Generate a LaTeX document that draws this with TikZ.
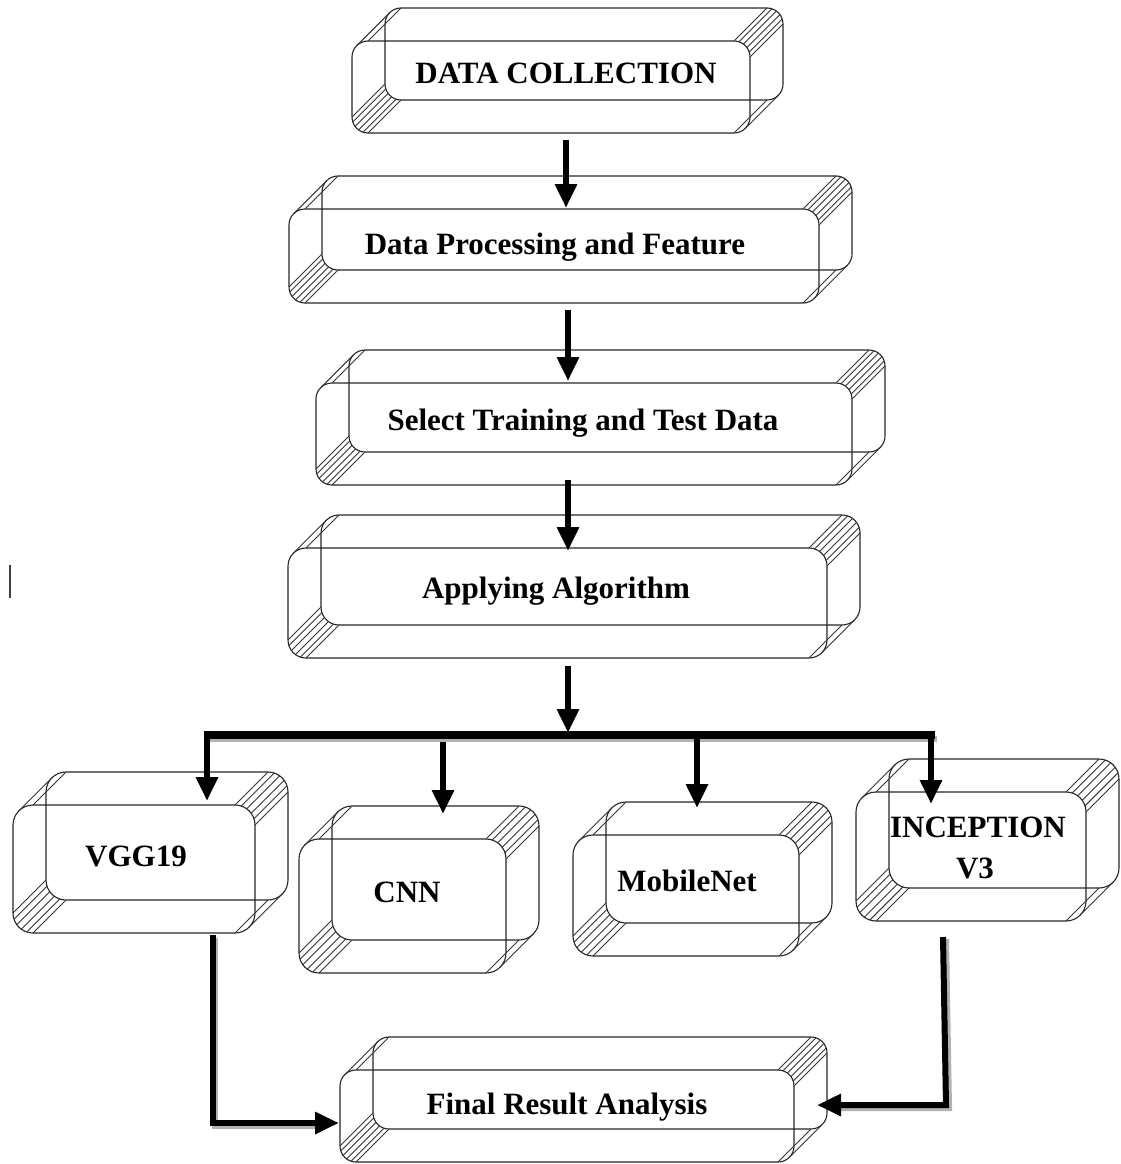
\documentclass[tikz,border=0pt]{standalone}
\usepackage{fontspec}
\setmainfont{Liberation Serif}
\usetikzlibrary{arrows.meta}
\tikzset{
 boxline/.style={draw=black!85, line width=1.1pt},
 hatchline/.style={draw=black!80, line width=0.9pt},
 lbl/.style={font=\fontsize{31}{38}\selectfont\bfseries, inner sep=0pt, anchor=base},
 arr/.style={line width=6pt, -{Triangle[length=24pt,width=21pt]}, draw=black},
 busline/.style={line width=8pt, draw=black},
 shade/.style={line width=6pt, draw=black!30},
}
\newcommand\bevline[4]{%
 \pgfmathsetmacro\px{#1+#3*cos(#4)}\pgfmathsetmacro\py{#2-#3*sin(#4)}%
 \draw[hatchline] (\px,\py) -- ++(33,-33);}
\newcommand\bevbox[6]{%
 \pgfmathsetmacro\fxb{#4-33}\pgfmathsetmacro\fya{#3+33}%
 \pgfmathsetmacro\kxa{#2+33}\pgfmathsetmacro\kyb{#5-33}%
 \pgfmathsetmacro\bw{#4-#2}\pgfmathsetmacro\bh{#5-#3}%
 \pgfmathsetmacro\bcx{(#2+#4)/2}\pgfmathsetmacro\bcy{(#3+#5)/2}%
 \draw[boxline,rounded corners=#6pt] (#2,\fya) rectangle (\fxb,#5);
 \draw[boxline,rounded corners=#6pt] (\kxa,#3) rectangle (#4,\kyb);
 \foreach \t in {0,18,...,90}{\bevline{\fxb-#6}{\fya+#6}{#6}{\t}}
 \foreach \t in {180,198,...,270}{\bevline{#2+#6}{#5-#6}{#6}{\t}}
 \foreach \t in {90,135}{\bevline{#2+#6}{\fya+#6}{#6}{\t}}
 \foreach \t in {270,315}{\bevline{\fxb-#6}{#5-#6}{#6}{\t}}
 \node[inner sep=0pt, minimum width=\bw pt, minimum height=\bh pt] (#1) at (\bcx,\bcy) {};
}
\begin{document}
\begin{tikzpicture}[x=1pt,y=-1pt]
\useasboundingbox (0,0) rectangle (1120,1164);
% boxes
\bevbox{dc}{352}{8}{783}{133}{16}
\bevbox{dp}{289}{176}{852}{303}{16}
\bevbox{st}{316}{350}{885}{485}{16}
\bevbox{aa}{288}{515}{860}{658}{18}
\bevbox{vgg}{13}{772}{288}{933}{20}
\bevbox{cnn}{299}{806}{539}{973}{20}
\bevbox{mob}{573}{802}{832}{956}{20}
\bevbox{inc}{856}{759}{1119}{921}{20}
\bevbox{fin}{340}{1037}{827}{1162}{16}
% labels
\node[lbl] (dct) at (566,84) {DATA COLLECTION};
\node[lbl] (dpt) at (555,254) {Data Processing and Feature};
\node[lbl] (stt) at (583,430) {Select Training and Test Data};
\node[lbl] (aat) at (556,598) {Applying Algorithm};
\node[lbl] (vggt) at (136,866) {VGG19};
\node[lbl] (cnnt) at (407,902) {CNN};
\node[lbl] (mobt) at (687,891) {MobileNet};
\node[lbl] (inct) at (978,837) {INCEPTION};
\node[lbl] (inct2) at (975,878) {V3};
\node[lbl] (fint) at (567,1114) {Final Result Analysis};
% connector end points
\coordinate (a1s) at (566,140); \coordinate (a1e) at (566,208);
\coordinate (a2s) at (568,310); \coordinate (a2e) at (568,381);
\coordinate (a3s) at (568,480); \coordinate (a3e) at (568,551);
\coordinate (a4s) at (568,666); \coordinate (a4e) at (568,733);
\coordinate (busl) at (207,735); \coordinate (busr) at (935,735);
\coordinate (vgge) at (207,801);
\coordinate (cnns) at (443,742); \coordinate (cnne) at (443,814);
\coordinate (mobs) at (697,738); \coordinate (mobe) at (697,808);
\coordinate (incs) at (931,735); \coordinate (ince) at (931,804);
\coordinate (v2fs) at (213,935); \coordinate (v2fc) at (213,1123); \coordinate (v2fe) at (339,1123);
\coordinate (i2fs) at (943,937); \coordinate (i2fc) at (946,1105); \coordinate (i2fe) at (817,1105);
% shadows
\draw[shade] ([shift={(2,4)}]busl) -- ([shift={(2,4)}]busr);
\draw[shade] ([shift={(2,3)}]v2fs) -- ([shift={(2,3)}]v2fc) -- ([shift={(-20,3)}]v2fe);
\draw[shade] ([shift={(3,2)}]i2fs) -- ([shift={(3,3)}]i2fc) -- ([shift={(20,3)}]i2fe);
% arrows
\draw[arr] (a1s) -- (a1e);
\draw[arr] (a2s) -- (a2e);
\draw[arr] (a3s) -- (a3e);
\draw[arr] (a4s) -- (a4e);
\draw[busline] (busl) -- (busr);
\draw[arr] ([yshift=4pt]busl) -- (vgge);
\draw[arr] (cnns) -- (cnne);
\draw[arr] (mobs) -- (mobe);
\draw[arr] ([yshift=4pt]incs) -- (ince);
\draw[arr] (v2fs) -- (v2fc) -- (v2fe);
\draw[arr] (i2fs) -- (i2fc) -- (i2fe);
% stray mark
\draw[line width=1.8pt, draw=black!75] (10,565) -- (10,598);
\end{tikzpicture}
\end{document}
